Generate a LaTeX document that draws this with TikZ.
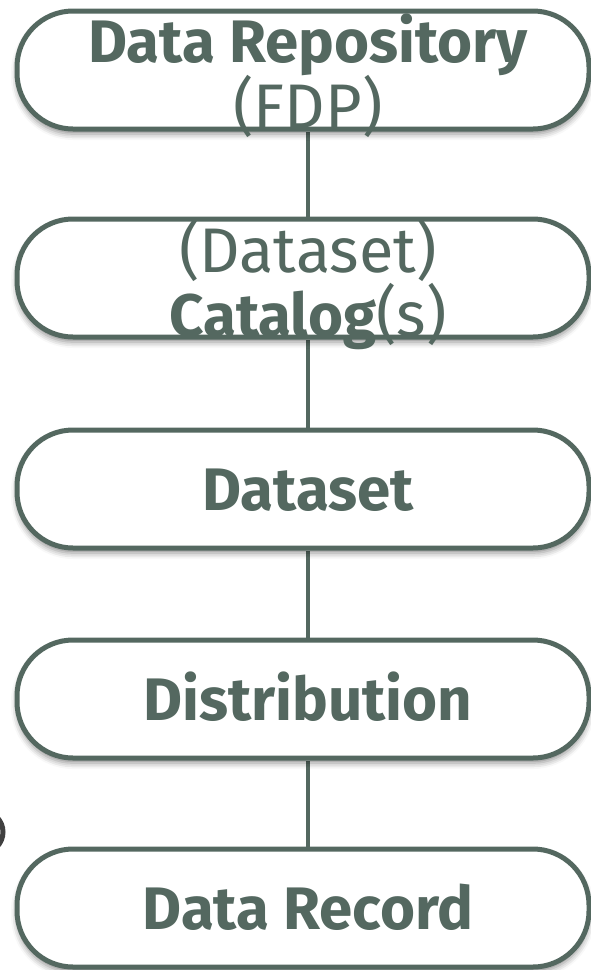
\documentclass[tikz,border=0pt]{standalone}
\usepackage{fontspec}
\setmainfont{Fira Sans}
\usetikzlibrary{positioning,shadows.blur,backgrounds}
\definecolor{slate}{RGB}{84,104,96}
\tikzstyle{box} = [draw=slate,line width=5pt,fill=white,rounded corners=56pt,minimum width=572pt,minimum height=118pt,blur shadow={shadow xshift=0pt,shadow yshift=-5pt,shadow blur radius=6pt,shadow opacity=45}]
\tikzstyle{lbl} = [text=slate,font=\fontsize{60}{62}\selectfont,inner sep=0pt,anchor=base]
\tikzstyle{thin} = [lbl,font=\fontsize{63}{65}\selectfont]
\tikzstyle{link} = [slate,line width=4pt]

\begin{document}
\begin{tikzpicture}[x=1pt,y=-1pt]
\useasboundingbox (0,0) rectangle (590,970);

\node[box] (repo) at (303,70) {};
\node[box] (catalog) at (303,278) {};
\node[box] (dataset) at (303,489) {};
\node[box] (distribution) at (303,699) {};
\node[box] (record) at (303,908) {};

\begin{scope}[on background layer]
\draw [link] ([xshift=5pt]repo.south) -- ([xshift=5pt]catalog.north);
\draw [link] ([xshift=5pt]catalog.south) -- ([xshift=5pt]dataset.north);
\draw [link] ([xshift=5pt]dataset.south) -- ([xshift=5pt]distribution.north);
\draw [link] ([xshift=5pt]distribution.south) -- ([xshift=5pt]record.north);
\end{scope}

\node[lbl] (repotop) at (308,62) {\bfseries Data Repository};
\node[thin] (repobot) at (308,128) {(FDP)};
\node[thin] (catalogtop) at (308,272) {(Dataset)};
\node[lbl] (catalogbot) at (308,336) {{\bfseries Catalog}{\fontsize{63}{65}\selectfont(s)}};
\node[lbl] (datasettxt) at (308,510) {\bfseries Dataset};
\node[lbl] (distributiontxt) at (308,720) {\bfseries Distribution};
\node[lbl] (recordtxt) at (308,929) {\bfseries Data Record};

\draw [line width=5pt,black!75] (-18,832) circle (21);
\end{tikzpicture}
\end{document}
